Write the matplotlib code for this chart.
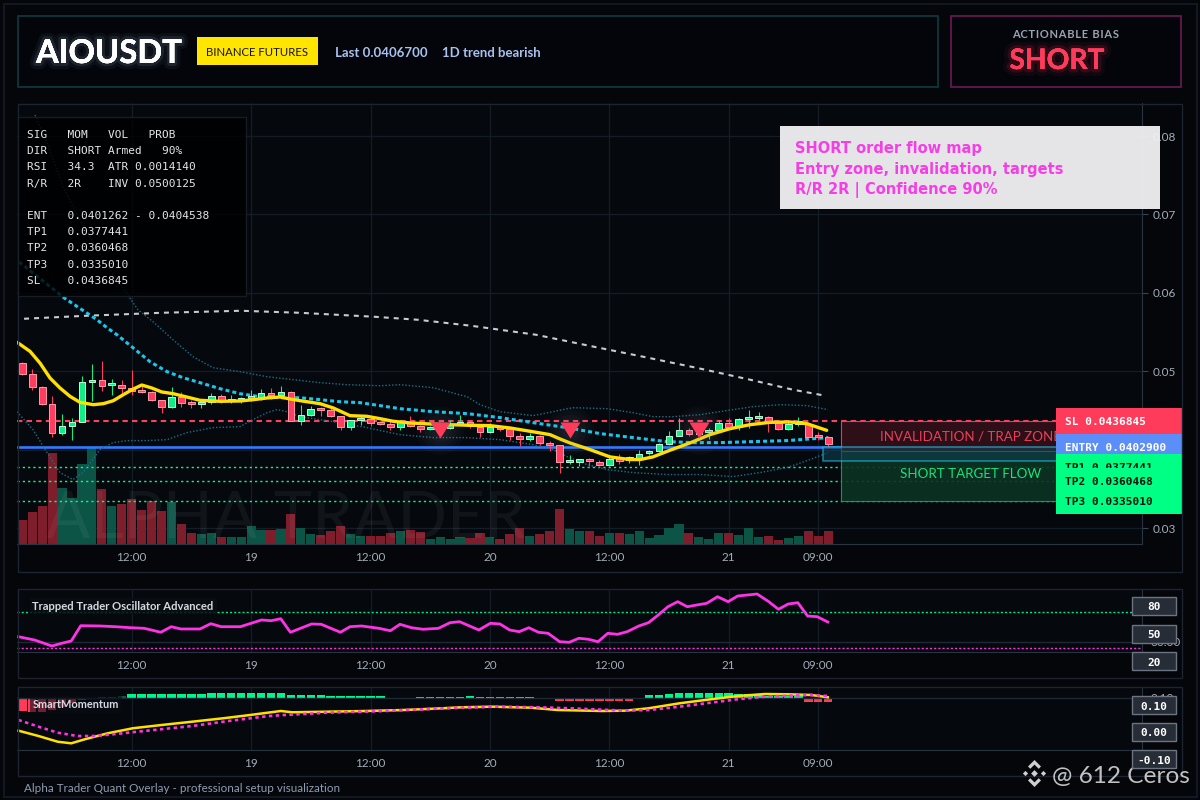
import numpy as np
import matplotlib
matplotlib.use("Agg")
import matplotlib.pyplot as plt
from matplotlib.patches import Rectangle, Polygon
from matplotlib.transforms import Affine2D, blended_transform_factory
import matplotlib.patheffects as pe

# ----------------------------------------------------------------- data
SYMBOL = "AIOUSDT"
EXCHANGE = "BINANCE FUTURES"
LAST_PRICE = 0.0406700
TREND_TEXT = "1D trend bearish"
BIAS = "SHORT"
VOL_STATE = "Armed"
PROB = 90
RSI = 34.3
ATR = 0.0014140
RR = "2R"
INV = 0.0500125
ENT_LOW, ENT_HIGH = 0.0401262, 0.0404538
ENTRY = 0.0402900
SL = 0.0436845
TP1, TP2, TP3 = 0.0377441, 0.0360468, 0.0335010
ZONE_SPLIT = 0.0398        # trap zone bottom / target flow top
ENTRY_BOX_LOW = 0.0385
SIGNAL_PRICE = 0.04255
signal_hours = [43, 56, 69]

x_tick_hours = [12, 24, 36, 48, 60, 72, 81]
x_tick_labels = ["12:00", "19", "12:00", "20", "12:00", "21", "09:00"]
price_ticks = [0.03, 0.04, 0.05, 0.06, 0.07, 0.08]
hidden_price_ticks = [0.04]   # covered by the ENTRY label in the reference

opens = [0.05104, 0.04964, 0.04798, 0.04582, 0.04212, 0.04297, 0.04352, 0.04862, 0.04888, 0.04824,
         0.04824, 0.04786, 0.04764, 0.04735, 0.04629, 0.04539, 0.04671, 0.04595, 0.04582, 0.04603,
         0.04679, 0.04624, 0.04637, 0.04654, 0.04663, 0.04722, 0.04696, 0.04735, 0.04361, 0.04437,
         0.04518, 0.04501, 0.04425, 0.04289, 0.04378, 0.04391, 0.04340, 0.04327, 0.04289, 0.04357,
         0.04297, 0.04259, 0.04263, 0.04276, 0.04318, 0.04348, 0.04284, 0.04221, 0.04276, 0.04263,
         0.04170, 0.04136, 0.04170, 0.04085, 0.04055, 0.03848, 0.03839, 0.03881, 0.03847, 0.03805,
         0.03894, 0.03873, 0.03885, 0.03958, 0.03979, 0.04072, 0.04178, 0.04255, 0.04200, 0.04225,
         0.04246, 0.04340, 0.04289, 0.04391, 0.04403, 0.04416, 0.04340, 0.04263, 0.04331, 0.04331,
         0.04178, 0.04157]
highs = [0.05117, 0.05028, 0.04807, 0.04688, 0.04454, 0.04399, 0.04943, 0.05091, 0.05134, 0.04900,
         0.04892, 0.05019, 0.04828, 0.04743, 0.04637, 0.04798, 0.04735, 0.04637, 0.04637, 0.04722,
         0.04713, 0.04696, 0.04667, 0.04760, 0.04773, 0.04786, 0.04807, 0.04752, 0.04565, 0.04552,
         0.04544, 0.04531, 0.04433, 0.04382, 0.04425, 0.04425, 0.04361, 0.04361, 0.04382, 0.04425,
         0.04318, 0.04297, 0.04297, 0.04374, 0.04446, 0.04361, 0.04297, 0.04340, 0.04297, 0.04276,
         0.04212, 0.04212, 0.04191, 0.04106, 0.04064, 0.03936, 0.03881, 0.03894, 0.03873, 0.03936,
         0.03949, 0.03924, 0.04000, 0.04000, 0.04085, 0.04234, 0.04403, 0.04276, 0.04280, 0.04276,
         0.04374, 0.04403, 0.04403, 0.04501, 0.04480, 0.04425, 0.04374, 0.04348, 0.04416, 0.04348,
         0.04221, 0.04170]
lows = [0.04947, 0.04756, 0.04565, 0.04161, 0.04191, 0.04119, 0.04352, 0.04616, 0.04743, 0.04701,
        0.04713, 0.04701, 0.04722, 0.04616, 0.04467, 0.04531, 0.04544, 0.04531, 0.04531, 0.04586,
        0.04595, 0.04595, 0.04595, 0.04616, 0.04637, 0.04646, 0.04658, 0.04361, 0.04319, 0.04425,
        0.04425, 0.04416, 0.04246, 0.04246, 0.04319, 0.04306, 0.04314, 0.04255, 0.04255, 0.04289,
        0.04221, 0.04246, 0.04250, 0.04263, 0.04318, 0.04276, 0.04161, 0.04212, 0.04233, 0.04127,
        0.04042, 0.04106, 0.04064, 0.03979, 0.03703, 0.03822, 0.03788, 0.03788, 0.03788, 0.03796,
        0.03817, 0.03830, 0.03800, 0.03936, 0.03966, 0.04064, 0.04170, 0.04178, 0.04190, 0.04136,
        0.04234, 0.04276, 0.04246, 0.04276, 0.04374, 0.04221, 0.04255, 0.04255, 0.04306, 0.04148,
        0.04119, 0.04021]
closes = [0.04964, 0.04794, 0.04582, 0.04212, 0.04297, 0.04352, 0.04862, 0.04888, 0.04807, 0.04828,
          0.04786, 0.04743, 0.04735, 0.04629, 0.04539, 0.04671, 0.04595, 0.04582, 0.04595, 0.04679,
          0.04624, 0.04637, 0.04654, 0.04679, 0.04722, 0.04692, 0.04735, 0.04361, 0.04437, 0.04518,
          0.04501, 0.04429, 0.04289, 0.04378, 0.04391, 0.04340, 0.04327, 0.04289, 0.04361, 0.04306,
          0.04263, 0.04263, 0.04280, 0.04331, 0.04357, 0.04297, 0.04221, 0.04284, 0.04263, 0.04170,
          0.04136, 0.04170, 0.04085, 0.04055, 0.03839, 0.03852, 0.03881, 0.03852, 0.03805, 0.03881,
          0.03860, 0.03907, 0.03949, 0.03987, 0.04072, 0.04178, 0.04255, 0.04200, 0.04230, 0.04255,
          0.04340, 0.04284, 0.04391, 0.04403, 0.04425, 0.04361, 0.04263, 0.04331, 0.04361, 0.04161,
          0.04161, 0.04067]
volumes = [24, 32, 38, 91, 56, 46, 80, 97, 55, 38, 40, 45, 34, 43, 33, 42, 20, 11, 10, 11,
           7, 7, 7, 18, 14, 14, 15, 30, 16, 10, 9, 13, 18, 10, 8, 8, 8, 11, 13, 14,
           12, 5, 7, 5, 7, 6, 11, 7, 5, 10, 16, 8, 10, 13, 35, 15, 13, 13, 8, 11,
           11, 10, 13, 6, 9, 16, 20, 11, 7, 5, 11, 11, 9, 16, 7, 8, 4, 6, 8, 13,
           8, 13]
VOL_SCALE_TOP = 441

# fast EMA (yellow)
ema_fast_h = [0.50, 1.78, 2.78, 3.79, 4.79, 5.80, 6.80, 8.14, 9.15, 10.15, 11.16, 12.16, 13.01, 14.01,
              15.02, 16.18, 17.53, 18.86, 20.87, 22.88, 24.22, 25.57, 26.90, 27.91, 28.92, 30.92,
              32.26, 33.94, 35.62, 36.95, 38.29, 39.97, 41.98, 43.99, 46.00, 48.01, 50.02, 52.03,
              54.04, 55.04, 56.05, 58.06, 60.07, 62.08, 63.09, 64.39, 66.10, 68.11, 70.12, 72.13,
              74.14, 76.15, 78.16, 79.84, 81.85]
ema_fast_p = [0.05367, 0.05253, 0.05104, 0.04913, 0.04786, 0.04679, 0.04603, 0.04573, 0.04586, 0.04624,
              0.04701, 0.04773, 0.04824, 0.04786, 0.04735, 0.04713, 0.04671, 0.04629, 0.04616, 0.04620,
              0.04637, 0.04658, 0.04671, 0.04646, 0.04624, 0.04586, 0.04531, 0.04433, 0.04425, 0.04395,
              0.04361, 0.04340, 0.04327, 0.04318, 0.04310, 0.04306, 0.04276, 0.04234, 0.04191, 0.04136,
              0.04085, 0.04000, 0.03907, 0.03873, 0.03873, 0.03907, 0.03992, 0.04085, 0.04191, 0.04267,
              0.04318, 0.04348, 0.04352, 0.04331, 0.04246]
# slow EMA (cyan dashed)
ema_slow_h = [0.67, 5.20, 8.51, 9.52, 10.52, 12.13, 13.84, 15.55, 17.16, 18.86, 20.87, 22.88, 24.89,
              26.90, 28.92, 30.92, 32.93, 34.94, 36.95, 38.96, 42.28, 45.70, 49.02, 52.33, 55.75,
              59.08, 62.38, 65.80, 68.41, 71.13, 74.44, 77.86, 81.98]
ema_slow_p = [0.06395, 0.05936, 0.05656, 0.05554, 0.05465, 0.05299, 0.05121, 0.04994, 0.04917, 0.04854,
              0.04777, 0.04713, 0.04675, 0.04662, 0.04662, 0.04637, 0.04611, 0.04599, 0.04561, 0.04522,
              0.04484, 0.04459, 0.04408, 0.04344, 0.04280, 0.04204, 0.04153, 0.04102, 0.04089, 0.04089,
              0.04102, 0.04115, 0.04153]
# long SMA (white dashed)
sma_long_h = [1.18, 7.41, 14.94, 22.98, 28.92, 36.45, 40.77, 46.10, 52.63, 57.96, 63.39, 68.71,
              74.14, 78.46, 81.68]
sma_long_p = [0.05669, 0.05707, 0.05745, 0.05771, 0.05745, 0.05694, 0.05656, 0.05580, 0.05465,
              0.05325, 0.05185, 0.05045, 0.04892, 0.04764, 0.04688]
# bands (faint dotted)
band_up_h = [2.28, 3.49, 5.10, 6.80, 8.81, 10.82, 12.63, 14.14, 16.15, 18.16, 20.17, 22.88, 25.60,
             28.21, 30.92, 33.64, 36.95, 38.96, 42.28, 45.70, 47.00, 49.02, 52.33, 54.34, 56.35,
             59.77, 62.38, 64.39, 66.40, 69.12, 72.43, 74.44, 77.16, 79.87, 81.98]
band_up_p = [0.08267, 0.07911, 0.07350, 0.06930, 0.06497, 0.06115, 0.05783, 0.05631, 0.05401, 0.05185,
             0.05045, 0.04994, 0.04930, 0.04892, 0.04854, 0.04828, 0.04815, 0.04828, 0.04790, 0.04675,
             0.04573, 0.04484, 0.04433, 0.04484, 0.04535, 0.04522, 0.04471, 0.04420, 0.04420, 0.04446,
             0.04510, 0.04548, 0.04573, 0.04561, 0.04510]
band_lo_h = [0.47, 2.08, 3.49, 4.79, 6.10, 7.11, 8.81, 10.12, 11.53, 13.54, 15.55, 17.56, 20.17,
             22.88, 24.19, 25.60, 26.60, 27.61, 28.92, 32.23, 35.65, 38.96, 42.28, 45.70, 49.02,
             52.33, 54.34, 55.75, 57.76, 59.77, 62.38, 65.80, 69.12, 72.43, 75.14, 77.86, 80.17, 81.98]
band_lo_p = [0.04484, 0.04255, 0.03962, 0.03707, 0.03618, 0.03707, 0.04000, 0.04089, 0.04115, 0.04115,
             0.04127, 0.04217, 0.04280, 0.04293, 0.04382, 0.04471, 0.04510, 0.04484, 0.04420, 0.04357,
             0.04280, 0.04191, 0.04153, 0.04153, 0.04127, 0.04064, 0.04000, 0.03911, 0.03809, 0.03745,
             0.03707, 0.03682, 0.03682, 0.03656, 0.03707, 0.03771, 0.03873, 0.03962]

# Trapped Trader Oscillator
osc_h = [0.62, 2.24, 3.98, 4.95, 5.92, 6.88, 8.81, 10.36, 11.91, 13.26, 14.92, 15.97, 16.93, 18.86,
         19.95, 20.99, 22.92, 25.05, 26.02, 26.98, 27.95, 30.07, 31.05, 32.97, 33.94, 35.10, 36.84,
         38.00, 38.96, 40.12, 41.29, 42.83, 43.99, 44.96, 46.89, 48.05, 49.02, 49.98, 50.95, 51.91,
         52.88, 53.85, 55.01, 55.97, 56.94, 57.91, 58.87, 59.85, 60.82, 61.80, 62.97, 63.94, 64.92,
         65.89, 66.87, 67.84, 68.81, 69.79, 70.88, 71.94, 72.91, 74.86, 76.03, 77.00, 77.98, 78.95,
         79.93, 80.90, 81.96]
osc_v = [38.8, 33.3, 23.3, 27.8, 31.7, 57.2, 56.7, 55.5, 53.8, 52.8, 46.2, 55.5, 51.7, 51.7, 60.5,
         55.5, 55.5, 66.7, 65.5, 68.8, 46.2, 60.0, 59.5, 46.2, 55.5, 56.7, 52.8, 48.8, 59.5, 53.8,
         51.2, 52.8, 62.2, 63.8, 50.0, 61.2, 60.0, 50.0, 47.2, 53.8, 46.2, 44.5, 30.5, 29.5, 36.2,
         34.5, 30.5, 44.5, 42.8, 47.2, 56.7, 62.2, 75.0, 88.8, 97.2, 88.8, 91.7, 94.5, 105.5, 97.2,
         106.7, 110.0, 97.2, 84.5, 93.3, 95.5, 73.3, 72.2, 63.3]
OSC_HIGH, OSC_LOW, OSC_GRID = 80, 20, 30
osc_boxes = ["80", "50", "20"]

# SmartMomentum
mom_fast_h = [0.62, 2.63, 4.56, 5.92, 7.27, 9.59, 12.10, 15.00, 18.09, 21.19, 23.89, 26.98, 28.14,
              31.62, 35.49, 39.35, 43.22, 45.15, 48.24, 52.11, 54.81, 59.27, 61.61, 63.94, 67.07,
              70.18, 72.91, 75.64, 77.98, 80.32, 81.96]
mom_fast_v = [0.0183, 0.0050, -0.0093, -0.0133, -0.0033, 0.0118, 0.0243, 0.0325, 0.0408, 0.0493,
              0.0575, 0.0675, 0.0643, 0.0658, 0.0675, 0.0700, 0.0743, 0.0768, 0.0783, 0.0758,
              0.0700, 0.0675, 0.0683, 0.0743, 0.0868, 0.0968, 0.1050, 0.1100, 0.1093, 0.1075, 0.1018]
mom_sig_h = [0.62, 2.63, 4.56, 6.53, 8.43, 10.36, 14.22, 18.09, 21.96, 25.82, 27.37, 31.62, 37.42,
             41.29, 45.15, 48.63, 52.88, 55.97, 59.27, 61.61, 63.94, 67.07, 70.18, 72.91, 75.64,
             77.98, 80.32, 81.96]
mom_sig_v = [0.0450, 0.0283, 0.0133, 0.0050, 0.0050, 0.0100, 0.0200, 0.0300, 0.0433, 0.0550,
             0.0575, 0.0633, 0.0675, 0.0718, 0.0758, 0.0783, 0.0768, 0.0743, 0.0708, 0.0683,
             0.0700, 0.0783, 0.0883, 0.0968, 0.1033, 0.1058, 0.1075, 0.1050]
mom_hist = [-0.0300, -0.0325, -0.0325, -0.0275, -0.0200, -0.0100, -0.0025, 0.0025, 0.0050, 0.0050,
            0.0075, 0.0125, 0.0125, 0.0125, 0.0125, 0.0125, 0.0125, 0.0125, 0.0125, 0.0150,
            0.0150, 0.0150, 0.0150, 0.0150, 0.0150, 0.0150, 0.0150, 0.0088, 0.0088, 0.0088,
            0.0088, 0.0058, 0.0058, 0.0058, 0.0058, 0.0058, 0.0058, 0.0025, 0.0025, 0.0025,
            0.0050, 0.0050, 0.0050, 0.0050, 0.0050, 0.0075, 0.0050, 0.0050, 0.0050, 0.0050,
            0.0050, 0.0050, 0.0025, 0.0025, -0.0050, -0.0050, -0.0050, -0.0050, -0.0050, -0.0050,
            -0.0050, -0.0050, 0.0025, 0.0088, 0.0088, 0.0125, 0.0150, 0.0150, 0.0150, 0.0150,
            0.0150, 0.0150, 0.0112, 0.0112, 0.0112, 0.0062, 0.0062, 0.0062, 0.0062, -0.0075,
            -0.0075, -0.0075]
MOM_GRID = 0.10
mom_boxes = ["0.10", "0.00", "-0.10"]

# ----------------------------------------------------------------- style / layout
BG = "#04060a"
PANEL = "#05080d"
GRID = "#141c26"
FRAME = "#1b2430"
SPINE = "#2a3441"
TICK = "#a3acb8"
UP = "#12ec84"
UP_EDGE = "#b9ffd9"
DOWN = "#ff3d5f"
DOWN_EDGE = "#ff9aab"
UI = ["Lato", "DejaVu Sans"]
MONO = ["DejaVu Sans Mono"]
WIDE = ["DejaVu Sans"]
plt.rcParams["font.family"] = UI

W, H = 1200, 800
fig = plt.figure(figsize=(12, 8), dpi=100, facecolor=BG)
PX = Affine2D().scale(1.0 / W, -1.0 / H).translate(0, 1) + fig.transFigure


def axrect(x0, y0, x1, y1):
    return [x0 / W, 1 - y1 / H, (x1 - x0) / W, (y1 - y0) / H]


def box(x0, y0, x1, y1, ec="none", fc="none", lw=1.0, z=3, alpha=1.0):
    r = Rectangle((x0, y0), x1 - x0, y1 - y0, transform=PX, ec=ec, fc=fc, lw=lw,
                  zorder=z, alpha=alpha)
    fig.add_artist(r)
    return r


def ftext(x, y, s, **kw):
    kw.setdefault("va", "center_baseline")
    kw.setdefault("ha", "left")
    kw.setdefault("family", UI)
    return fig.text(x, y, s, transform=PX, **kw)


X0, X1 = 0.47, 113.54
candle_hours = np.arange(1, len(closes) + 1)

# outer border
box(3.5, 3.5, 1196.5, 796.5, ec="#111822", lw=1.5, z=0.5)

# ----------------------------------------------------------------- header
box(17.5, 15.5, 938, 86.5, ec="#0e3a40", fc="#03050a", lw=1.2, z=3)
box(951, 15.5, 1181, 86.5, ec="#6a1b55", fc="#03050a", lw=1.2, z=3)
ftext(36, 51, SYMBOL, color="white", fontsize=23.6, fontweight="bold", zorder=5,
      path_effects=[pe.withStroke(linewidth=9, foreground=(0.7, 0.85, 1.0, 0.05)),
                    pe.withStroke(linewidth=4.5, foreground=(0.7, 0.85, 1.0, 0.10)),
                    pe.Normal()])
box(197, 37, 318, 65, fc="#ffe500", z=4)
ftext(257.5, 51.5, EXCHANGE, color="#141414", fontsize=8.2, ha="center", zorder=5)
ftext(335, 52, f"Last {LAST_PRICE:.7f}", color="#a9c1ef", fontsize=9.5, fontweight="bold", zorder=5)
ftext(442, 52, TREND_TEXT, color="#a9c1ef", fontsize=9.5, fontweight="bold", zorder=5)
ftext(1066, 34, "\u200a".join("ACTIONABLE BIAS"), color="#9aa3ae", fontsize=8, fontweight="bold",
      ha="center", zorder=5)
ftext(1057, 58.5, BIAS, color="#ff3b5c", fontsize=20.3, fontweight="bold", ha="center", zorder=5,
      path_effects=[pe.withStroke(linewidth=10, foreground=(1.0, 0.2, 0.35, 0.06)),
                    pe.withStroke(linewidth=5, foreground=(1.0, 0.2, 0.35, 0.12)),
                    pe.Normal()])

# ----------------------------------------------------------------- price panel
box(17.5, 103.5, 1181.5, 572, ec=FRAME, lw=1.0, z=3)
ax_bg = fig.add_axes(axrect(17, 103, 1142, 544), label="price_bg")
ax = fig.add_axes(axrect(17, 103, 1142, 544), label="price")
ax_bg.set_zorder(1)
ax.set_zorder(2)
ax.patch.set_alpha(0)
ax_bg.set_facecolor(PANEL)
ax_bg.set_xlim(X0, X1)
ax_bg.set_ylim(0, VOL_SCALE_TOP)
ax_bg.set_xticks([])
ax_bg.set_yticks([])
for s in ax_bg.spines.values():
    s.set_visible(False)

PY0, PY1 = 0.02796, 0.08421
ax.set_xlim(X0, X1)
ax.set_ylim(PY0, PY1)

# grid
ax_bg.vlines(x_tick_hours, 0, VOL_SCALE_TOP, color=GRID, lw=1, zorder=1)
tr_grid = blended_transform_factory(ax_bg.transAxes, ax.transData)
for p in price_ticks:
    ax_bg.plot([0, 1], [p, p], transform=tr_grid, color=GRID, lw=1, zorder=1)

# volume
vol_colors = ["#0c5546" if c >= o else "#7e1d2b" for o, c in zip(opens, closes)]
ax_bg.bar(candle_hours, volumes, width=0.92, color=vol_colors, zorder=2, lw=0)
ax_bg.text(46, 549, "ALPHA TRADER", transform=PX, fontsize=47, color="white", alpha=0.05,
           ha="left", va="bottom", zorder=3, clip_on=True)

# level lines
ax.axhline(SL, color="#ff4060", lw=1.5, ls=(0, (2.6, 2.0)), zorder=2)
ax.axhline(ENTRY, color="#2f7bff", lw=1.9, zorder=2)
for tp in (TP1, TP2, TP3):
    ax.axhline(tp, color="#00ff88", lw=1.0, ls=(0, (1.6, 2.2)), zorder=2)

# bands / averages
ax.plot(band_up_h, band_up_p, color="#1d6f86", lw=1.0, ls=(0, (1, 1.4)), zorder=3)
ax.plot(band_lo_h, band_lo_p, color="#1d6f86", lw=1.0, ls=(0, (1, 1.4)), zorder=3)
ax.plot(sma_long_h, sma_long_p, color="#c8ccd2", lw=1.5, ls=(0, (2.4, 2.4)), zorder=3)
ax.plot(ema_slow_h, ema_slow_p, color="#19c6ec", lw=2.2, ls=(0, (1.3, 1.0)), zorder=3.5)

# candles
BODY_W = 0.67
MIN_BODY = 0.00025
for t, o, h, l, c in zip(candle_hours, opens, highs, lows, closes):
    up = c >= o
    ax.vlines(t, l, h, color=UP if up else DOWN, lw=0.8, zorder=4)
    lo = min(o, c)
    hgt = max(abs(c - o), MIN_BODY)
    ax.add_patch(Rectangle((t - BODY_W / 2, lo), BODY_W, hgt, fc=UP if up else DOWN,
                           ec=UP_EDGE if up else DOWN_EDGE, lw=0.7, zorder=5))

ax.plot(ema_fast_h, ema_fast_p, color="#ffe000", lw=2.4, zorder=6, solid_capstyle="round")

# sell signals with glow
for rad in (24, 20, 16, 12, 9):
    ax.scatter(signal_hours, [SIGNAL_PRICE] * len(signal_hours), s=(2 * rad / 1.389) ** 2,
               color="#8d9aab", alpha=0.035, lw=0, zorder=6.5)
ax.plot(signal_hours, [SIGNAL_PRICE] * len(signal_hours), ls="none",
        marker=[(-1, 0.8), (1, 0.8), (0, -0.8)], ms=14.4, color="#ff3b5c", mec="none", zorder=7)

# zones
last_h = candle_hours[-1]
ZX0 = last_h + 1.3
ZX1 = last_h + 27.3
ax.add_patch(Rectangle((ZX0, ZONE_SPLIT), ZX1 - ZX0, SL - ZONE_SPLIT, fc="#33101a", ec="#ff4060",
                       lw=0.8, alpha=0.9, zorder=8, clip_on=False))
ax.add_patch(Rectangle((ZX0, TP3), ZX1 - ZX0, ZONE_SPLIT - TP3, fc="#0b3322", ec="#1f9e63",
                       lw=0.8, alpha=0.9, zorder=8, clip_on=False))
ax.add_patch(Rectangle((last_h - 0.5, ENTRY_BOX_LOW), ZX1 - last_h + 0.5, ENTRY - ENTRY_BOX_LOW,
                       fc="#0f4050", ec="#22c9e8", lw=1.1, alpha=0.6, zorder=9, clip_on=False))
ax.text((ZX0 + ZX1) / 2, (SL + ZONE_SPLIT) / 2, "INVALIDATION / TRAP ZONE", color="#e8405a",
        fontsize=9.6, ha="center", va="center_baseline", zorder=9.5)
ax.text((ZX0 + ZX1) / 2, (ZONE_SPLIT + TP3) / 2 + 0.0004, "SHORT TARGET FLOW", color="#19e27a",
        fontsize=9.6, ha="center", va="center_baseline", zorder=9.5)

# right price labels
tr_lab = blended_transform_factory(PX, ax.transData)
half = 13 * (PY1 - PY0) / 441
labels = [("SL", SL, "#ff3b5c", "white"), ("ENTRY", ENTRY, "#5b8ef7", "white"),
          ("TP1", TP1, "#00ff85", "#04140c"), ("TP2", TP2, "#00ff85", "#04140c"),
          ("TP3", TP3, "#00ff85", "#04140c")]
for i, (name, val, fc, tc) in enumerate(labels):
    ax.add_patch(Rectangle((1056, val - half), 126, 2 * half, transform=tr_lab, fc=fc, ec="none",
                           zorder=10 + 2 * i, clip_on=False))
    ax.text(1065, val, f"{name} {val:.7f}", transform=tr_lab, color=tc, fontsize=8,
            fontweight="bold", family=MONO, va="center_baseline", ha="left",
            zorder=11 + 2 * i, clip_on=False)

# axes styling
ax.yaxis.tick_right()
ax.set_yticks(price_ticks)
ax.set_yticklabels(["" if p in hidden_price_ticks else f"{p:.2f}" for p in price_ticks])
ax.set_xticks(x_tick_hours)
ax.set_xticklabels(x_tick_labels)
ax.tick_params(axis="y", length=4, color="#3a4552", pad=4, labelsize=8.5, labelcolor=TICK)
ax.tick_params(axis="x", length=0, pad=6, labelsize=8.5, labelcolor=TICK)
ax.spines["top"].set_visible(False)
ax.spines["left"].set_visible(False)
ax.spines["bottom"].set_color(SPINE)
ax.spines["right"].set_color(SPINE)

# info box
box(17.5, 117, 246, 296, ec="#1c222b", fc="#000000", lw=1, z=20, alpha=0.82)
info_lines = [
    "SIG   MOM   VOL   PROB",
    f"DIR   {BIAS} {VOL_STATE}   {PROB}%",
    f"RSI   {RSI:.1f}  ATR {ATR:.7f}",
    f"R/R   {RR}    INV {INV:.7f}",
    "",
    f"ENT   {ENT_LOW:.7f} - {ENT_HIGH:.7f}",
    f"TP1   {TP1:.7f}",
    f"TP2   {TP2:.7f}",
    f"TP3   {TP3:.7f}",
    f"SL    {SL:.7f}",
]
for i, line in enumerate(info_lines):
    ftext(27, 134 + i * 16.2, line, family=MONO, fontsize=8.0, color="#e6e6e6", zorder=21)

# annotation card
box(780, 126, 1160, 209, fc="#f2f2f5", z=20, alpha=0.95)
card = ["SHORT order flow map", "Entry zone, invalidation, targets",
        f"R/R {RR} | Confidence {PROB}%"]
for i, line in enumerate(card):
    ftext(795, 147.5 + i * 20.5, line, family=WIDE, color="#f53ee6", fontsize=10.5,
          fontweight="bold", zorder=21)

# ----------------------------------------------------------------- oscillator panel
box(17.5, 589, 1181.5, 678, ec=FRAME, lw=1.0, z=3)
ax_o = fig.add_axes(axrect(17, 589, 1142, 652), label="osc")
ax_o.set_zorder(1)
ax_o.set_facecolor(PANEL)
ax_o.set_xlim(X0, X1)
ax_o.set_ylim(13.33, 118.33)
ax_o.vlines(x_tick_hours, 13.33, 118.33, color=GRID, lw=1, zorder=0.5)
ax_o.axhline(OSC_GRID, color="#1f2935", lw=1, zorder=0.6)
ax_o.axhline(OSC_HIGH, color="#00e68a", lw=1.0, ls=(0, (1.5, 1.5)), zorder=1)
ax_o.axhline(OSC_LOW, color="#ff33e6", lw=1.0, ls=(0, (1.5, 1.5)), zorder=1)
ax_o.plot(osc_h, osc_v, color="#ff33e6", lw=2.0, zorder=4, solid_joinstyle="round")
ax_o.yaxis.tick_right()
ax_o.set_yticks([OSC_GRID])
ax_o.set_yticklabels([f"{OSC_GRID:.2f}"])
ax_o.set_xticks(x_tick_hours)
ax_o.set_xticklabels(x_tick_labels)
ax_o.tick_params(axis="y", length=0, pad=6, labelsize=8.5, labelcolor=TICK)
ax_o.tick_params(axis="x", length=0, pad=5.5, labelsize=8.5, labelcolor=TICK)
ax_o.spines["top"].set_visible(False)
ax_o.spines["left"].set_visible(False)
ax_o.spines["bottom"].set_color(SPINE)
ax_o.spines["right"].set_color(SPINE)
ftext(32.5, 605, "Trapped Trader Oscillator Advanced", color="#d5dae2", fontsize=8.1,
      fontweight="bold", zorder=20,
      bbox=dict(fc="#0a0e14", ec="none", alpha=0.85, pad=2))
for i, lab in enumerate(osc_boxes):
    y0 = 597 + i * 27.5
    box(1132, y0, 1176, y0 + 18, ec="#6b7480", fc="#262d36", lw=1, z=20)
    ftext(1154, y0 + 9.5, lab, family=MONO, fontsize=8, fontweight="bold", color="white",
          ha="center", zorder=21)

# ----------------------------------------------------------------- momentum panel
box(17.5, 687, 1181.5, 776, ec=FRAME, lw=1.0, z=3)
ax_h = fig.add_axes(axrect(17, 687, 1142, 750), label="mom_hist")
ax_m = fig.add_axes(axrect(17, 687, 1142, 750), label="mom")
ax_h.set_zorder(1)
ax_m.set_zorder(2)
ax_m.patch.set_alpha(0)
ax_h.set_facecolor(PANEL)
ax_h.set_xlim(X0, X1)
ax_h.set_ylim(-0.12875, 0.02875)
ax_h.set_xticks([])
ax_h.set_yticks([])
for s in ax_h.spines.values():
    s.set_visible(False)
ax_h.vlines(x_tick_hours, -0.12875, 0.02875, color=GRID, lw=1, zorder=0.5)
DARK_UP = range(7, 11)
hist_colors = []
for i, v in enumerate(mom_hist):
    if v < 0:
        hist_colors.append("#ff3b5c")
    elif i in DARK_UP:
        hist_colors.append("#0e5e3c")
    else:
        hist_colors.append("#00f58a")
ax_h.bar(candle_hours, mom_hist, width=0.85, color=hist_colors, lw=0, zorder=2)

ax_m.set_xlim(X0, X1)
ax_m.set_ylim(-0.03, 0.1275)
ax_m.axhline(MOM_GRID, color="#1f2935", lw=1, zorder=0.6)
ax_m.plot(mom_fast_h, mom_fast_v, color="#ffe100", lw=1.8, zorder=4)
ax_m.plot(mom_sig_h, mom_sig_v, color="#ff33e6", lw=1.9, ls=(0, (1.3, 1.3)), zorder=5)
ax_m.yaxis.tick_right()
ax_m.set_yticks([MOM_GRID])
ax_m.set_yticklabels([f"{MOM_GRID:.2f}"])
ax_m.set_xticks(x_tick_hours)
ax_m.set_xticklabels(x_tick_labels)
ax_m.tick_params(axis="y", length=0, pad=6, labelsize=8.5, labelcolor=TICK)
ax_m.tick_params(axis="x", length=0, pad=5.5, labelsize=8.5, labelcolor=TICK)
ax_m.spines["top"].set_visible(False)
ax_m.spines["left"].set_visible(False)
ax_m.spines["bottom"].set_color(SPINE)
ax_m.spines["right"].set_color(SPINE)
ftext(32.5, 703.5, "SmartMomentum", color="#d5dae2", fontsize=7.9, fontweight="bold", zorder=20,
      bbox=dict(fc="#0a0e14", ec="none", alpha=0.6, pad=2))
for i, lab in enumerate(mom_boxes):
    y0 = 696 + i * 27
    box(1132, y0, 1176, y0 + 18, ec="#6b7480", fc="#262d36", lw=1, z=20)
    ftext(1154, y0 + 9.5, lab, family=MONO, fontsize=8, fontweight="bold", color="white",
          ha="center", zorder=21)

# ----------------------------------------------------------------- footer + watermark
ftext(24, 787.5, "Alpha Trader Quant Overlay - professional setup visualization", color="#8d9db3",
      fontsize=8.4, zorder=5)

cx, cy = 1034.5, 773.5
LOGO = "#cfcfcf"


def diamond(x, y, r):
    return Polygon([(x, y - r), (x + r, y), (x, y + r), (x - r, y)], closed=True,
                   transform=PX, fc=LOGO, ec="none", zorder=6)


for art in (diamond(cx, cy, 3.4), diamond(cx - 9, cy, 2.6), diamond(cx + 9, cy, 2.6)):
    fig.add_artist(art)
for sgn in (-1, 1):
    chev = Polygon([(cx, cy + sgn * 13.5), (cx + 6.5, cy + sgn * 7.0), (cx + 4.2, cy + sgn * 4.7),
                    (cx, cy + sgn * 8.9), (cx - 4.2, cy + sgn * 4.7), (cx - 6.5, cy + sgn * 7.0)],
                   closed=True, transform=PX, fc=LOGO, ec="none", zorder=6)
    fig.add_artist(chev)
ftext(1052, 774.5, "@ 612 Ceros", color="#d6d6d6", fontsize=17.6, alpha=0.9, zorder=6)

fig.savefig("out.png", dpi=100, facecolor=BG)
